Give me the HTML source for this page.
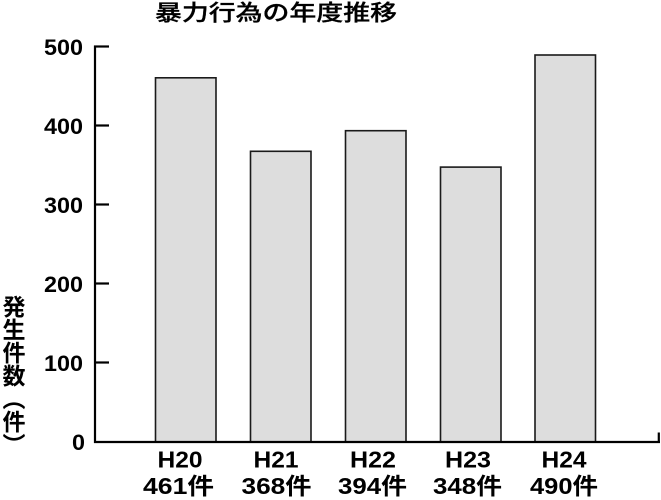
<!DOCTYPE html>
<html>
<head>
<meta charset="utf-8">
<style>
  html, body { margin:0; padding:0; background:#fff; }
  body { width:661px; height:500px; position:relative; overflow:hidden; }
  svg { position:absolute; left:0; top:0; }
  .ylab {
    position:absolute; left:0px; top:295px; width:23px; height:170px;
    writing-mode: vertical-rl;
    font-family: "Liberation Sans", "Noto Sans CJK JP", sans-serif;
    font-weight: bold; font-size:23px; line-height:23px; letter-spacing:0;
    color:#000; margin:0; padding:0;
  }
</style>
</head>
<body>
<svg width="661" height="500" viewBox="0 0 661 500" xmlns="http://www.w3.org/2000/svg">
  <g font-family="'Liberation Sans','Noto Sans CJK JP',sans-serif" fill="#000">
    <!-- title -->
    <text x="155" y="20.5" font-size="22" font-weight="500" stroke="#000" stroke-width="0.3" textLength="242" lengthAdjust="spacingAndGlyphs">暴力行為の年度推移</text>

    <!-- bars -->
    <g fill="#dddddd" stroke="#1a1a1a" stroke-width="1.6">
      <rect x="155.5" y="77.8" width="60.5" height="364.2"/>
      <rect x="250.5" y="151.3" width="60.5" height="290.7"/>
      <rect x="345.5" y="130.7" width="60.5" height="311.3"/>
      <rect x="440.5" y="167.1" width="60.5" height="274.9"/>
      <rect x="535" y="55" width="60.5" height="387"/>
    </g>

    <!-- axes -->
    <g stroke="#000" stroke-width="2.2" fill="none">
      <line x1="95" y1="45.5" x2="95" y2="443"/>
      <line x1="94" y1="442" x2="660" y2="442"/>
      <line x1="658.8" y1="432.5" x2="658.8" y2="443"/>
      <line x1="94" y1="46.5" x2="109" y2="46.5"/>
      <line x1="94" y1="125.5" x2="109" y2="125.5"/>
      <line x1="94" y1="204.5" x2="109" y2="204.5"/>
      <line x1="94" y1="283.5" x2="109" y2="283.5"/>
      <line x1="94" y1="362.5" x2="109" y2="362.5"/>
    </g>

    <!-- y tick labels -->
    <g font-size="22" font-weight="bold" text-anchor="end">
      <text x="83" y="55" textLength="39" lengthAdjust="spacingAndGlyphs">500</text>
      <text x="83" y="134" textLength="39" lengthAdjust="spacingAndGlyphs">400</text>
      <text x="83" y="213" textLength="39" lengthAdjust="spacingAndGlyphs">300</text>
      <text x="83" y="292" textLength="39" lengthAdjust="spacingAndGlyphs">200</text>
      <text x="83" y="371" textLength="39" lengthAdjust="spacingAndGlyphs">100</text>
      <text x="85" y="450" textLength="13" lengthAdjust="spacingAndGlyphs">0</text>
    </g>

    <!-- x labels -->
    <g font-size="23" font-weight="bold">
      <text x="157.5" y="467.5" textLength="45" lengthAdjust="spacingAndGlyphs">H20</text>
      <text x="253.5" y="467.5" textLength="45" lengthAdjust="spacingAndGlyphs">H21</text>
      <text x="350" y="467.5" textLength="46" lengthAdjust="spacingAndGlyphs">H22</text>
      <text x="445" y="467.5" textLength="46" lengthAdjust="spacingAndGlyphs">H23</text>
      <text x="541.5" y="467.5" textLength="45" lengthAdjust="spacingAndGlyphs">H24</text>

      <text x="143" y="494" textLength="71" lengthAdjust="spacingAndGlyphs">461件</text>
      <text x="241.5" y="494" textLength="70" lengthAdjust="spacingAndGlyphs">368件</text>
      <text x="338" y="494" textLength="69" lengthAdjust="spacingAndGlyphs">394件</text>
      <text x="433" y="494" textLength="69" lengthAdjust="spacingAndGlyphs">348件</text>
      <text x="530" y="494" textLength="68" lengthAdjust="spacingAndGlyphs">490件</text>
    </g>
  </g>
</svg>
<div class="ylab">発生件数（件）</div>
</body>
</html>
